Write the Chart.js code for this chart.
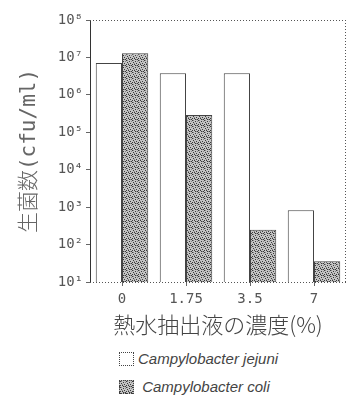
<!DOCTYPE html>
<html>
<head>
<meta charset="utf-8">
<script src="https://cdn.jsdelivr.net/npm/chart.js@4/dist/chart.umd.min.js"></script>
<style>
  html, body { margin: 0; padding: 0; background: #fff; overflow: hidden; }
  #wrap { position: relative; width: 347px; height: 413px; }
  #chart { position: absolute; left: 0; top: 0; }
  .legend { position: absolute; left: 119px; font-family: 'Liberation Sans', sans-serif; font-style: italic; font-size: 15px; color: #444; }
  .legend span.box { display: inline-block; width: 15px; height: 14px; box-sizing: border-box; border: 1px dotted #444; vertical-align: -2px; margin-right: 4px; }
</style>
</head>
<body>
<div id="wrap">
  <canvas id="chart" width="347" height="342"></canvas>
  <div class="legend" style="top:350px"><span class="box" style="background:#fff"></span>Campylobacter jejuni</div>
  <div class="legend" style="top:378px"><span class="box" id="coliBox"></span>&nbsp;Campylobacter coli</div>
</div>
<script>
// 熱水抽出液の濃度(%)
const categories = ['0', '1.75', '3.5', '7'];
// 生菌数 (cfu/ml)
const jejuniValues = [7.1e6, 3.8e6, 3.8e6, 8.3e2];
const coliValues = [1.3e7, 2.9e5, 2.5e2, 3.6e1];
const yTickValues = [1e1, 1e2, 1e3, 1e4, 1e5, 1e6, 1e7, 1e8];
const seriesNames = ['Campylobacter jejuni', 'Campylobacter coli'];

const sup = { '0': '⁰', '1': '¹', '2': '²', '3': '³', '4': '⁴', '5': '⁵', '6': '⁶', '7': '⁷', '8': '⁸', '9': '⁹' };

// stipple pattern for the coli bars
const makeStipple = () => {
    const c = document.createElement('canvas');
    c.width = 6; c.height = 6;
    const g = c.getContext('2d');
    g.fillStyle = '#c4c4c4';
    g.fillRect(0, 0, 6, 6);
    g.fillStyle = '#3a3a3a';
    [[0, 0], [3, 1], [1, 2], [4, 3], [2, 4], [5, 5], [0, 4], [3, 5]].forEach(([x, y]) => g.fillRect(x, y, 1, 1));
    g.fillStyle = '#888';
    [[1, 0], [5, 1], [2, 3], [4, 5]].forEach(([x, y]) => g.fillRect(x, y, 1, 1));
    return c;
};
const stippleCanvas = makeStipple();
document.getElementById('coliBox').style.background = 'url(' + stippleCanvas.toDataURL() + ')';

const ctx = document.getElementById('chart').getContext('2d');
const stipple = ctx.createPattern(stippleCanvas, 'repeat');

// dotted frame: top, bottom and right edge of the plot
const framePlugin = {
    id: 'frame',
    afterDatasetsDraw(chart) {
        const { left, right, top, bottom } = chart.chartArea;
        const c = chart.ctx;
        c.save();
        c.strokeStyle = '#555';
        c.lineWidth = 1;
        c.setLineDash([1, 2]);
        c.beginPath();
        c.moveTo(left, top + 0.5); c.lineTo(347, top + 0.5);
        c.moveTo(left, bottom + 0.5); c.lineTo(right, bottom + 0.5);
        c.moveTo(right - 0.5, top); c.lineTo(right - 0.5, bottom);
        c.stroke();
        c.restore();
    }
};

new Chart(ctx, {
    type: 'bar',
    data: {
        labels: categories,
        datasets: [{
            label: seriesNames[0],
            data: jejuniValues,
            backgroundColor: '#fff',
            borderColor: '#444',
            borderWidth: 1,
            borderSkipped: 'bottom'
        }, {
            label: seriesNames[1],
            data: coliValues,
            backgroundColor: stipple,
            borderColor: '#444',
            borderWidth: 1,
            borderSkipped: 'bottom'
        }]
    },
    options: {
        responsive: false,
        animation: false,
        layout: { padding: { top: 20, left: 0, right: 1, bottom: 0 } },
        categoryPercentage: 0.82,
        barPercentage: 1.0,
        plugins: {
            legend: { display: false },
            tooltip: { enabled: false }
        },
        scales: {
            x: {
                grid: { display: true, drawOnChartArea: false, offset: false, tickLength: 4, color: '#666' },
                border: { display: false },
                ticks: { color: '#555', padding: 5, font: { family: "'DejaVu Sans Mono'", size: 14 } },
                title: {
                    display: true,
                    text: '熱水抽出液の濃度(%)',
                    color: '#444',
                    font: { family: "'Noto Sans CJK JP'", size: 22, weight: 300 },
                    padding: { top: 0, bottom: 4 }
                },
                afterFit(axis) { axis.height = 60; }
            },
            y: {
                type: 'logarithmic',
                min: 10,
                max: 1e8,
                afterBuildTicks(axis) { axis.ticks = yTickValues.map(v => ({ value: v })); },
                grid: { display: true, drawOnChartArea: false, tickLength: 4, color: '#666' },
                border: { display: true, color: '#333', width: 1 },
                ticks: {
                    color: '#555',
                    padding: 3,
                    font: { family: "'DejaVu Sans Mono'", size: 14 },
                    callback: (v) => '10' + String(Math.round(Math.log10(v))).split('').map(d => sup[d]).join('')
                },
                title: {
                    display: true,
                    text: '生菌数(cfu/ml)',
                    color: '#666',
                    font: { family: "'DejaVu Sans Mono', 'Noto Sans CJK JP'", size: 21, weight: 300 },
                    padding: { top: 17, bottom: 0 }
                },
                afterFit(axis) { axis.width = 90; }
            }
        }
    },
    plugins: [framePlugin]
});
</script>
</body>
</html>
